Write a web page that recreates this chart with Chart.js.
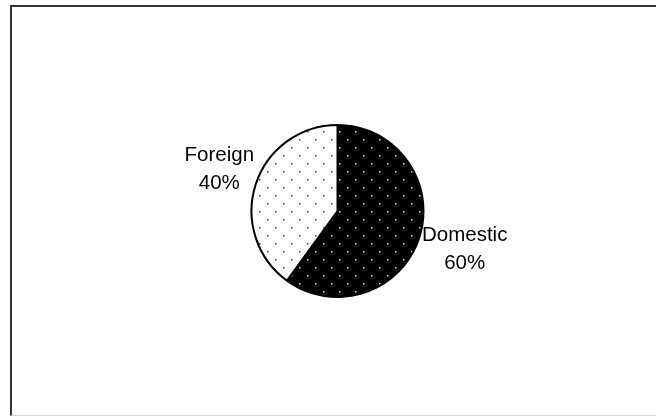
<!DOCTYPE html>
<html>
<head>
<meta charset="utf-8">
<script src="https://cdn.jsdelivr.net/npm/chart.js@4/dist/chart.umd.min.js"></script>
<style>
  html, body { margin: 0; padding: 0; background: #fff; }
  #wrap { position: relative; width: 656px; height: 416px; overflow: hidden; }
  #frame {
    position: absolute; left: 10px; top: 5px; width: 700px; height: 408px;
    border-left: 2px solid #333; border-top: 2px solid #333; border-bottom: 1px solid #ddd;
  }
  canvas { position: absolute; left: 0; top: 0; }
</style>
</head>
<body>
<div id="wrap">
  <div id="frame"></div>
  <canvas id="pie" width="656" height="416"></canvas>
</div>
<script>
// chart data
const categories = ['Domestic', 'Foreign'];
const shares = [60, 40];
const pctLabels = ['60%', '40%'];

// dotted fills: black with white dots, white with black dots
function dotPattern(bg, dot) {
  const c = document.createElement('canvas');
  c.width = 16; c.height = 16;
  const g = c.getContext('2d');
  g.fillStyle = bg;
  g.fillRect(0, 0, 16, 16);
  g.fillStyle = dot;
  g.fillRect(3, 3, 1.5, 1.5);
  g.fillRect(11, 11, 1.5, 1.5);
  return g.createPattern(c, 'repeat');
}

const outsideLabels = {
  id: 'outsideLabels',
  afterDatasetsDraw(chart) {
    const ctx = chart.ctx;
    const meta = chart.getDatasetMeta(0);
    ctx.save();
    ctx.font = '20.5px "Liberation Sans", Arial, sans-serif';
    ctx.fillStyle = '#000';
    ctx.textAlign = 'center';
    ctx.textBaseline = 'middle';
    meta.data.forEach((arc, i) => {
      const p = arc.getProps(['x', 'y', 'startAngle', 'endAngle', 'outerRadius'], true);
      const mid = (p.startAngle + p.endAngle) / 2;
      const d = p.outerRadius + 43;
      // labels sit a touch right of and above the radial line
      const x = p.x + 4.5 + Math.cos(mid) * d;
      const y = p.y - 2 + Math.sin(mid) * d;
      ctx.fillText(categories[i], x, y - 14);
      ctx.fillText(pctLabels[i], x, y + 14);
    });
    ctx.restore();
  }
};

new Chart(document.getElementById('pie'), {
  type: 'pie',
  data: {
    labels: categories,
    datasets: [{
      data: shares,
      backgroundColor: [dotPattern('#000', '#ddd'), dotPattern('#fff', '#444')],
      borderColor: '#000',
      borderWidth: 2
    }]
  },
  options: {
    responsive: false,
    animation: false,
    layout: { padding: { top: 124, bottom: 118, left: 19, right: 0 } },
    plugins: {
      legend: { display: false },
      tooltip: { enabled: false }
    }
  },
  plugins: [outsideLabels]
});
</script>
</body>
</html>
